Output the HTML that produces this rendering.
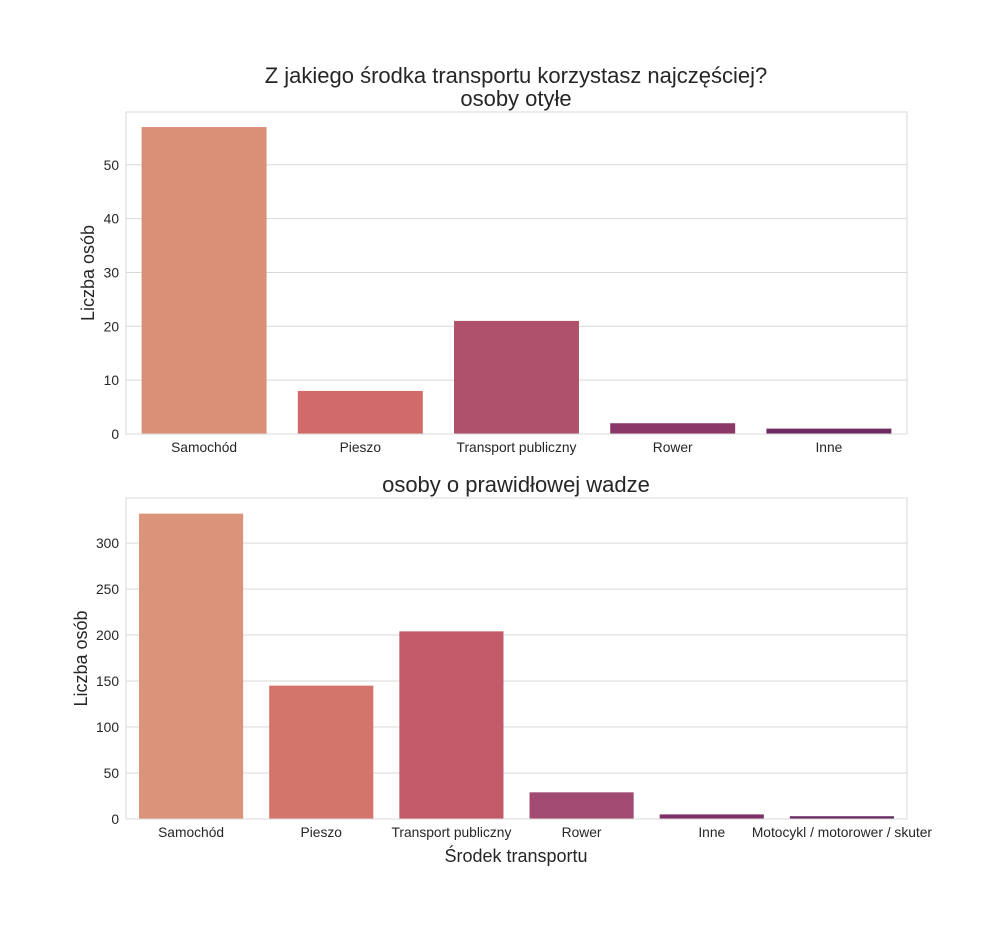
<!DOCTYPE html>
<html><head><meta charset="utf-8"><style>
body{margin:0;background:#fff;font-family:"Liberation Sans",Arial,sans-serif}
svg text{font-family:"Liberation Sans",Arial,sans-serif;fill:#262626}
</style></head><body>
<svg id="c" width="1008" height="936"></svg>
<script>
const cats1=["Samochód","Pieszo","Transport publiczny","Rower","Inne"];
const vals1=[57,8,21,2,1];
const ticks1=[0,10,20,30,40,50];
const colors1=["#da8f77","#d06b69","#b0516c","#8b3768","#6e2b62"];
const cats2=["Samochód","Pieszo","Transport publiczny","Rower","Inne","Motocykl / motorower / skuter"];
const vals2=[332,145,204,29,5,3];
const ticks2=[0,50,100,150,200,250,300];
const colors2=["#db9479","#d3756a","#c25a6a","#a24a71","#7d3168","#63295f"];
const svg=document.getElementById('c');
const NS='http://www.w3.org/2000/svg';
function mk(t,a,txt){const e=document.createElementNS(NS,t);for(const k in a)e.setAttribute(k,a[k]);if(txt!=null)e.textContent=txt;svg.appendChild(e);return e;}
function panel(p,cats,vals,ticks,colors,L,R,T,B,ymax,ylabel,ylx){
  const y=v=>B-(v/ymax)*(B-T);
  const slot=(R-L)/cats.length;
  ticks.forEach(t=>{
    const g=mk('line',{x1:L,x2:R,y1:y(t),y2:y(t),stroke:'#d9d9d9','stroke-width':1});
    
    const tl=mk('text',{x:L-7,y:y(t)+5,'text-anchor':'end','font-size':13.8},t);
    
  });
  cats.forEach((c,i)=>{
    const cx=L+slot*(i+0.5),w=slot*0.8;
    const b=mk('rect',{x:cx-w/2,y:y(vals[i]),width:w,height:B-y(vals[i]),fill:colors[i]});
    
    const tl=mk('text',{x:cx,y:B+18,'text-anchor':'middle','font-size':13.8},c);
    
  });
  const fr=mk('rect',{x:L,y:T,width:R-L,height:B-T,fill:'none',stroke:'#d9d9d9','stroke-width':1});
  
  const yl=mk('text',{x:ylx,y:(T+B)/2,'text-anchor':'middle','font-size':18,transform:`rotate(-90 ${ylx} ${(T+B)/2})`},ylabel);
  
}
panel('top',cats1,vals1,ticks1,colors1,126,907,112,434,59.8,'Liczba osób',94);
panel('bottom',cats2,vals2,ticks2,colors2,126,907,498,819,349,'Liczba osób',87);
</script>
<svg style="position:absolute;left:0;top:0" width="1008" height="936">
<text x="516" y="83" text-anchor="middle" font-size="22">Z jakiego środka transportu korzystasz najczęściej?</text>
<text x="516" y="106" text-anchor="middle" font-size="22">osoby otyłe</text>
<text x="516" y="492" text-anchor="middle" font-size="22">osoby o prawidłowej wadze</text>
<text x="516" y="862" text-anchor="middle" font-size="18">Środek transportu</text>
</svg>
</body></html>
